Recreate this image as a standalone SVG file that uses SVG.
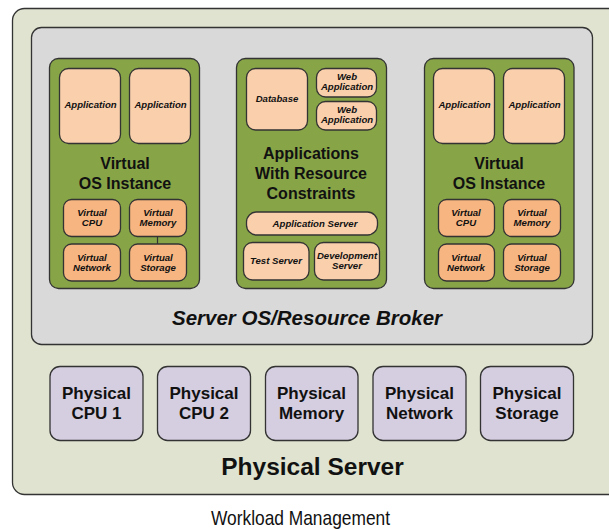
<svg xmlns="http://www.w3.org/2000/svg" width="609" height="529" viewBox="0 0 609 529">
<style>
  .box{stroke:#333;stroke-width:1.3}
  .outer{fill:#dfe3cf}
  .broker{fill:#d9d9d9}
  .vm{fill:#87a447}
  .app{fill:#f9cfac}
  .res{fill:#f6b581}
  .phys{fill:#d5cde0}
  text{font-family:"Liberation Sans",Arial,sans-serif;fill:#111;text-anchor:middle}
  .sm{font-size:9.6px;font-weight:bold;font-style:italic}
  .md{font-size:16px;font-weight:bold}
  .ph{font-size:17px;font-weight:bold}
  .brk{font-size:20.5px;font-weight:bold;font-style:italic}
  .big{font-size:24.5px;font-weight:bold}
  .cap{font-size:21px}
  .conn{stroke:#333;stroke-width:1.2;fill:none}
</style>
<g id="physical-server">
  <rect class="box outer" x="12.5" y="8.5" width="610" height="486" rx="12"/>
  <text class="big" x="312.5" y="475">Physical Server</text>
</g>
<g id="server-os-broker">
  <rect class="box broker" x="31.5" y="27.5" width="561" height="317" rx="10"/>
  <text class="brk" x="307" y="325">Server OS/Resource Broker</text>
</g>

<g id="vm-left">
  <rect class="box vm" x="49.5" y="58.5" width="150" height="230" rx="9"/>
  <text class="md" x="125" y="169">Virtual</text>
  <text class="md" x="125" y="189">OS Instance</text>
</g>
<g id="vm-left-app1"><rect class="box app" x="59.5" y="68.5" width="61" height="75" rx="9"/><text class="sm" x="90.5" y="108">Application</text></g>
<g id="vm-left-app2"><rect class="box app" x="129.5" y="68.5" width="61" height="75" rx="9"/><text class="sm" x="160.5" y="108">Application</text></g>
<g id="vm-left-cpu"><rect class="box res" x="63.5" y="199.5" width="57" height="37" rx="8"/><text class="sm" x="92" y="216">Virtual</text><text class="sm" x="92" y="226">CPU</text></g>
<g id="vm-left-mem"><rect class="box res" x="129.5" y="199.5" width="57" height="37" rx="8"/><text class="sm" x="158" y="216">Virtual</text><text class="sm" x="158" y="226">Memory</text></g>
<g id="vm-left-net"><rect class="box res" x="63.5" y="244" width="57" height="37" rx="8"/><text class="sm" x="92" y="260.5">Virtual</text><text class="sm" x="92" y="270.5">Network</text></g>
<g id="vm-left-sto"><rect class="box res" x="129.5" y="244" width="57" height="37" rx="8"/><text class="sm" x="158" y="260.5">Virtual</text><text class="sm" x="158" y="270.5">Storage</text></g>

<g id="constrained">
  <rect class="box vm" x="236.5" y="58.5" width="150" height="230" rx="9"/>
  <text class="md" x="311" y="159">Applications</text>
  <text class="md" x="311" y="179">With Resource</text>
  <text class="md" x="311" y="199">Constraints</text>
</g>
<g id="database"><rect class="box app" x="246.5" y="68.5" width="61" height="61.5" rx="9"/><text class="sm" x="277" y="102">Database</text></g>
<g id="web-app-1"><rect class="box app" x="316.5" y="68.5" width="60" height="28.5" rx="9"/><text class="sm" x="347" y="79.5">Web</text><text class="sm" x="347" y="89.5">Application</text></g>
<g id="web-app-2"><rect class="box app" x="316.5" y="101.5" width="60" height="28.5" rx="9"/><text class="sm" x="347" y="112.5">Web</text><text class="sm" x="347" y="122.5">Application</text></g>
<g id="app-server"><rect class="box app" x="246.5" y="212" width="131" height="23" rx="10"/><text class="sm" x="315" y="227">Application Server</text></g>
<g id="test-server"><rect class="box app" x="243.5" y="242.5" width="65.5" height="37.5" rx="9"/><text class="sm" x="276" y="264">Test Server</text></g>
<g id="dev-server"><rect class="box app" x="314.5" y="242.5" width="65" height="37.5" rx="9"/><text class="sm" x="347" y="258.5">Development</text><text class="sm" x="347" y="268.5">Server</text></g>

<g id="vm-right">
  <rect class="box vm" x="424.5" y="58.5" width="149.5" height="230" rx="9"/>
  <text class="md" x="499" y="169">Virtual</text>
  <text class="md" x="499" y="189">OS Instance</text>
</g>
<g id="vm-right-app1"><rect class="box app" x="433.5" y="68.5" width="61" height="75" rx="9"/><text class="sm" x="464.5" y="108">Application</text></g>
<g id="vm-right-app2"><rect class="box app" x="503.5" y="68.5" width="61" height="75" rx="9"/><text class="sm" x="534.5" y="108">Application</text></g>
<g id="vm-right-cpu"><rect class="box res" x="438.5" y="199.5" width="56" height="37" rx="8"/><text class="sm" x="466" y="216">Virtual</text><text class="sm" x="466" y="226">CPU</text></g>
<g id="vm-right-mem"><rect class="box res" x="503.5" y="199.5" width="57" height="37" rx="8"/><text class="sm" x="532" y="216">Virtual</text><text class="sm" x="532" y="226">Memory</text></g>
<g id="vm-right-net"><rect class="box res" x="438.5" y="244" width="56" height="37" rx="8"/><text class="sm" x="466" y="260.5">Virtual</text><text class="sm" x="466" y="270.5">Network</text></g>
<g id="vm-right-sto"><rect class="box res" x="503.5" y="244" width="57" height="37" rx="8"/><text class="sm" x="532" y="260.5">Virtual</text><text class="sm" x="532" y="270.5">Storage</text></g>

<g id="phys-cpu1"><rect class="box phys" x="50" y="366.5" width="93" height="74" rx="10"/><text class="ph" x="96.5" y="399">Physical</text><text class="ph" x="96.5" y="419">CPU 1</text></g>
<g id="phys-cpu2"><rect class="box phys" x="157.5" y="366.5" width="93" height="74" rx="10"/><text class="ph" x="204" y="399">Physical</text><text class="ph" x="204" y="419">CPU 2</text></g>
<g id="phys-mem"><rect class="box phys" x="265.5" y="366.5" width="92.5" height="74" rx="10"/><text class="ph" x="311.5" y="399">Physical</text><text class="ph" x="311.5" y="419">Memory</text></g>
<g id="phys-net"><rect class="box phys" x="373" y="366.5" width="93" height="74" rx="10"/><text class="ph" x="419.5" y="399">Physical</text><text class="ph" x="419.5" y="419">Network</text></g>
<g id="phys-sto"><rect class="box phys" x="480.5" y="366.5" width="93" height="74" rx="10"/><text class="ph" x="527" y="399">Physical</text><text class="ph" x="527" y="419">Storage</text></g>

<g id="connectors">
  <line class="conn" x1="157.5" y1="236.5" x2="157.5" y2="244"/>
</g>

<text class="cap" x="300.5" y="525" textLength="179" lengthAdjust="spacingAndGlyphs">Workload Management</text>
</svg>
